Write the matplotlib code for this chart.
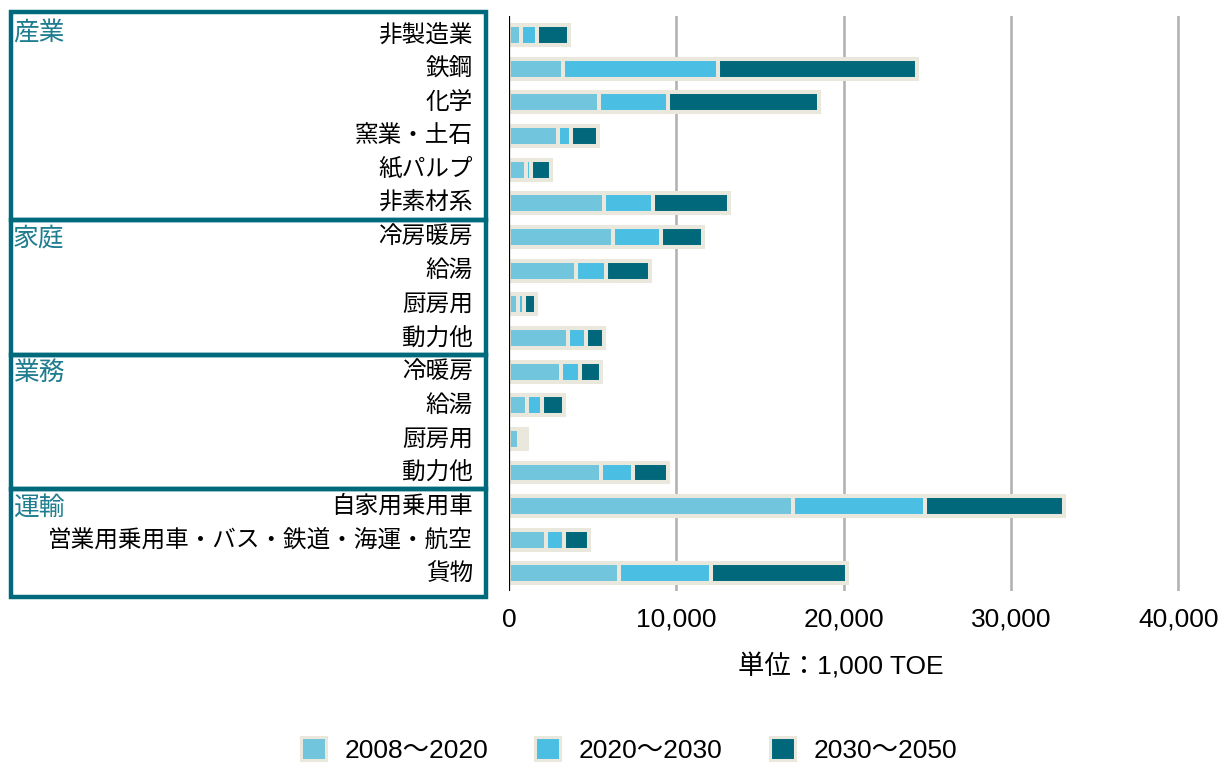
import matplotlib
matplotlib.use("Agg")
import matplotlib.pyplot as plt
import matplotlib.transforms as mtransforms
from matplotlib.patches import Patch, Rectangle
import numpy as np

# rows top to bottom
labels = ["非製造業", "鉄鋼", "化学", "窯業・土石", "紙パルプ", "非素材系",
          "冷房暖房", "給湯", "厨房用", "動力他",
          "冷暖房", "給湯", "厨房用", "動力他",
          "自家用乗用車", "営業用乗用車・バス・鉄道・海運・航空", "貨物"]
groups = ["産業", "家庭", "業務", "運輸"]
group_sizes = [6, 4, 4, 3]

# 1,000 TOE
p2008_2020 = [700, 3200, 5400, 2900, 1000, 5700, 6200, 4000, 550, 3500, 3100, 1070, 620, 5500, 17000, 2200, 6600]
p2020_2030 = [1000, 9300, 4100, 800, 300, 2900, 2900, 1800, 350, 1100, 1150, 930, 230, 1900, 7850, 1100, 5500]
p2030_2050 = [1900, 11900, 9000, 1600, 1200, 4550, 2500, 2650, 700, 1050, 1250, 1300, 230, 2100, 8350, 1500, 8100]

series_names = ["2008～2020", "2020～2030", "2030～2050"]
colors = ["#71c5dd", "#4bbfe3", "#01687b"]
beige = "#eae8dc"
teal = "#006a7d"

xticks = [0, 10000, 20000, 30000, 40000]

plt.rcParams['font.family'] = ['Liberation Sans', 'Noto Sans CJK JP', 'DejaVu Sans']

W, H = 1226, 764
fig = plt.figure(figsize=(W / 100, H / 100), dpi=100)
ax = fig.add_axes([509 / W, 1 - 591 / H, 686 / W, 575 / H])

y = np.arange(len(labels))
data = np.array([p2008_2020, p2020_2030, p2030_2050])
totals = data.sum(axis=0)
px = 40000 / 669  # data units per pixel

ax.barh(y, totals + 2 * px, height=0.71, color=beige, zorder=2)
left = np.zeros(len(labels))
for vals, c in zip(data, colors):
    ax.barh(y, vals, left=left, height=0.594, color=c, edgecolor=beige,
            linewidth=2.9, zorder=3)
    left += vals

for xt in xticks[1:]:
    ax.axvline(xt, color="#b3b3b3", lw=1.9, zorder=1)
ax.axvline(0, color="black", lw=1.6, zorder=4, ymin=-0.015)

ax.set_xlim(0, 41000)
ax.set_ylim(len(labels) - 0.48, -0.56)
ax.set_xticks(xticks)
ax.set_xticklabels([f"{t:,}" for t in xticks], fontsize=19)
ax.tick_params(axis="x", length=0, pad=12)
ax.set_yticks([])
for s in ax.spines.values():
    s.set_visible(False)

ax.text(0.5 * (739 + 942) / W, 1 - 666 / H, "単位：1,000 TOE", fontsize=19,
        ha="center", va="center", transform=fig.transFigure)

# left panel: category labels and group boxes
tr = mtransforms.blended_transform_factory(fig.transFigure, ax.transData)
for i, lab in enumerate(labels):
    ax.text(473 / W, i, lab, fontsize=17, ha="right", va="center",
            transform=tr, family=['Noto Sans CJK JP'], clip_on=False)

start = 0
for g, n in zip(groups, group_sizes):
    top = start - 0.5 if start > 0 else -0.68
    bot = start + n - 0.5 if start + n < len(labels) else len(labels) - 0.3
    ax.add_patch(Rectangle((11 / W, top), 475 / W, bot - top, transform=tr,
                           fill=False, edgecolor=teal, lw=3.2, clip_on=False, zorder=5))
    ax.text(13 / W, start - 0.05 if start == 0 else start + 0.05, g, fontsize=18.5,
            color="#1f7d8f", ha="left", va="center", transform=tr,
            family=['Noto Sans CJK JP'], clip_on=False)
    start += n

handles = [Patch(facecolor=c, edgecolor=beige, lw=2.2) for c in colors]
fig.legend(handles, series_names, loc="center", bbox_to_anchor=(629 / W, 1 - 750 / H),
           ncol=3, frameon=False, fontsize=19, handlelength=0.95, handleheight=0.95,
           handletextpad=0.7, columnspacing=1.8)

fig.savefig("out.png", dpi=100)
